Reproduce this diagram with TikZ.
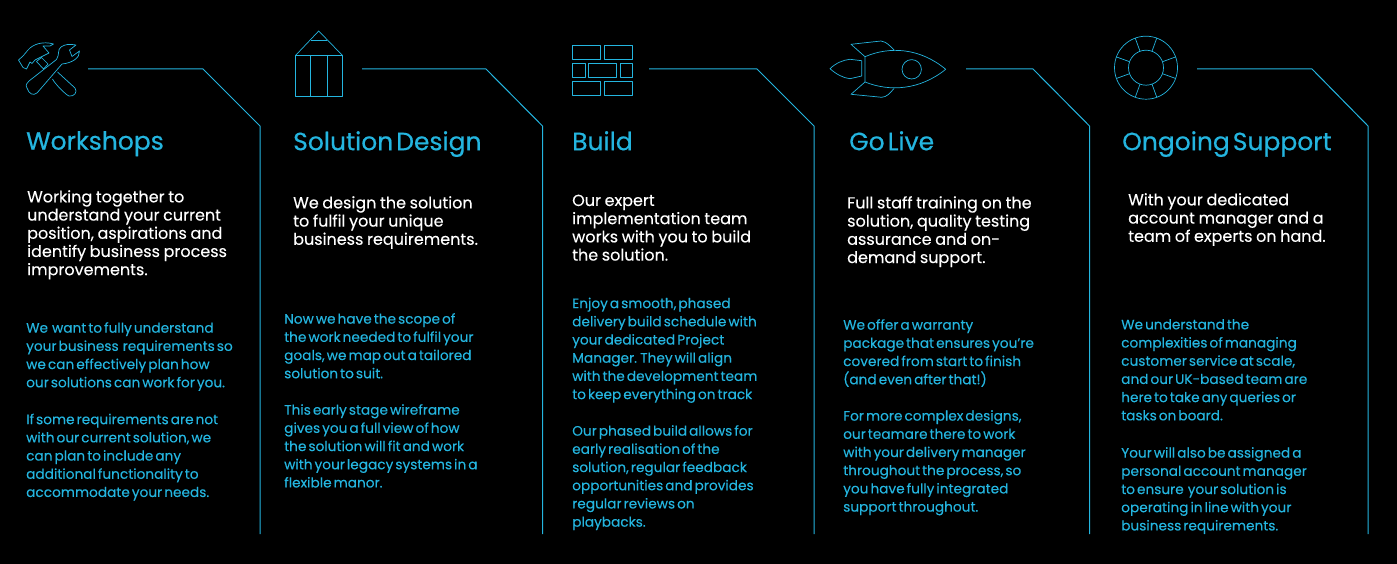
\documentclass[tikz,border=0pt]{standalone}
\usepackage{fontspec}
\setmainfont{Poppins}
\newfontfamily\titlefont[FakeBold=0.5,WordSpace=0.45]{Poppins}
\newfontfamily\leadfont[FakeBold=0.15,WordSpace=0.85]{Poppins}
\newfontfamily\detailfont[FakeBold=0.2,WordSpace=0.55]{Poppins}
\usepackage{tikz}
\usetikzlibrary{positioning,backgrounds,calc}
\definecolor{skyline}{HTML}{24B5DF}
\tikzset{title/.style={text=skyline,anchor=north west,inner sep=0pt,font=\titlefont\fontsize{25}{30}\selectfont},
 lead/.style={text=white,anchor=north west,inner sep=0pt,align=left,font=\leadfont\fontsize{16}{18.2}\selectfont},
 detail/.style={text=skyline,anchor=north west,inner sep=0pt,align=left,font=\detailfont\fontsize{13.7}{18.2}\selectfont},
 rail/.style={draw=skyline,line width=1pt},
 icon/.style={draw=skyline,line width=0.7pt,line join=round}}

\begin{document}
\begin{tikzpicture}[x=1pt,y=-1pt]
\fill[black] (0,0) rectangle (1397,564);
\useasboundingbox (0,0) rectangle (1397,564);

% hammer and wrench
\draw[icon] (18.5,60) -- (23,56) -- (28,50) .. controls (33,44) and (43,41) .. (53.5,44) -- (50,46) -- (43,46) -- (49,53) -- (39,58) -- (35,60) -- (32,63.5) -- (30,62) -- (26.5,69) -- (23,67.5) -- cycle;
\draw[icon] (36.5,61.5) -- (41.5,57.5) -- (48,64) -- (43.5,69) -- cycle;
\draw[icon] (27,88) .. controls (25,85) and (27,83) .. (29,81) -- (56.5,59.5) .. controls (60,54) and (57,50) .. (61,47) .. controls (65,44) and (70,44) .. (76,45) -- (69.5,50) -- (72,56.5) -- (79.5,51) .. controls (80,58) and (72,63) .. (62,64) -- (37,93) .. controls (33,96) and (29,94) .. (27,88) -- cycle;
\draw[icon] (57.5,72) -- (75,88) .. controls (78,92) and (74,97) .. (69,96) .. controls (66,95) and (55,84) .. (52.5,79);

% pencil
\draw[icon] (295.5,55.5) rectangle (342.5,96.5);
\draw[icon] (295.5,55.5) -- (318.7,31) -- (342.5,55.5);
\draw[icon] (310.7,40.5) -- (327.3,40.5);
\draw[icon] (310.7,55.5) -- (310.7,96.5);
\draw[icon] (327.3,55.5) -- (327.3,96.5);

% bricks
\draw[icon] (572,45) rectangle (600.7,59.7);
\draw[icon] (604,45) rectangle (632.7,59.7);
\draw[icon] (572,63) rectangle (585,77.7);
\draw[icon] (588.3,63) rectangle (616.7,77.7);
\draw[icon] (620,63) rectangle (632.7,77.7);
\draw[icon] (572,81) rectangle (600.7,95.7);
\draw[icon] (604,81) rectangle (632.7,95.7);

% rocket
\draw[icon] (865,56.7) .. controls (890,46) and (920,48) .. (945.7,69.3) .. controls (920,90) and (890,92) .. (865,82) -- cycle;
\draw[icon] (911.7,69.3) circle (9.7);
\draw[icon] (865,56.7) -- (851,44.3) -- (881,41) .. controls (887,42) and (890,46) .. (894,50);
\draw[icon] (865,82) -- (851,94.3) -- (881.7,97.3) .. controls (887,97) and (890,93) .. (894,88.5);
\draw[icon] (861.7,60.7) -- (850,59.3) .. controls (843,60) and (836,63) .. (830,68.7) .. controls (836,74) and (843,78) .. (850,78.7) -- (861.7,76) -- cycle;

% lifebuoy
\draw[icon] (1146,67.7) circle (31.5);
\draw[icon] (1146,67.7) circle (17.5);
\foreach \a in {20,70,110,160,200,250,290,340}
  \draw[icon] ($(1146,67.7)+(\a:17.5 and -17.5)$) -- ($(1146,67.7)+(\a:31.5 and -31.5)$);

% rails
\coordinate (w1) at (88,69);
\coordinate (w2) at (203,69);
\coordinate (w3) at (260,126);
\coordinate (w4) at (260,534);
\draw[rail] (w1)--(w2)--(w3)--(w4);
\coordinate (s1) at (362,69);
\coordinate (s2) at (486,69);
\coordinate (s3) at (542.5,126);
\coordinate (s4) at (542.5,534);
\draw[rail] (s1)--(s2)--(s3)--(s4);
\coordinate (b1) at (649,69);
\coordinate (b2) at (757,69);
\coordinate (b3) at (814,126);
\coordinate (b4) at (814,534);
\draw[rail] (b1)--(b2)--(b3)--(b4);
\coordinate (g1) at (966,69);
\coordinate (g2) at (1033,69);
\coordinate (g3) at (1089.5,126);
\coordinate (g4) at (1089.5,534);
\draw[rail] (g1)--(g2)--(g3)--(g4);
\coordinate (o1) at (1197,69);
\coordinate (o2) at (1312,69);
\coordinate (o3) at (1368,126);
\coordinate (o4) at (1368,534);
\draw[rail] (o1)--(o2)--(o3)--(o4);

% titles
\node[title] (wtitle) at (26,131) {Workshops};
\node[title] (stitle) at (293,131) {Solution Design};
\node[title] (btitle) at (572,131) {Build};
\node[title] (gtitle) at (849,131) {Go Live};
\node[title] (otitle) at (1122,131) {Ongoing Support};

% white text
\node[lead] (wlead) at (27,190) {Working together to\\understand your current\\position, aspirations and\\identify business process\\improvements.};
\node[lead] (slead) at (293,196) {We design the solution\\to fulfil your unique\\business requirements.};
\node[lead] (blead) at (572,194.5) {Our expert\\implementation team\\works with you to build\\the solution.};
\node[lead] (glead) at (847,196) {Full staff training on the\\solution, quality testing\\assurance and on-\\demand support.};
\node[lead] (olead) at (1128,193) {With your dedicated\\account manager and a\\team of experts on hand.};

% blue text
\node[detail] (wnote) at (26,322) {We\ \ want to fully understand\\your business\ \ requirements so\\we can effectively plan how\\our solutions can work for you.};
\node[detail] (wmore) at (26,413.5) {If some requirements are not\\with our current solution, we\\can plan to include any\\additional functionality to\\accommodate your needs.};
\node[detail] (snote) at (284,313) {Now we have the scope of\\the work needed to fulfil your\\goals, we map out a tailored\\solution to suit.};
\node[detail] (smore) at (284,404) {This early stage wireframe\\gives you a full view of how\\the solution will fit and work\\with your legacy systems in a\\flexible manor.};
\node[detail] (bnote) at (572,297.5) {Enjoy a smooth, phased\\delivery build schedule with\\your dedicated Project\\Manager. They will align\\with the development team\\to keep everything on track};
\node[detail] (bmore) at (572,425) {Our phased build allows for\\early realisation of the\\solution, regular feedback\\opportunities and provides\\regular reviews on\\playbacks.};
\node[detail] (gnote) at (843,319) {We offer a warranty\\package that ensures you’re\\covered from start to finish\\(and even after that!)};
\node[detail] (gmore) at (843,410) {For more complex designs,\\our teamare there to work\\with your delivery manager\\throughout the process, so\\you have fully integrated\\support throughout.};
\node[detail] (onote) at (1121,319) {We understand the\\complexities of managing\\customer service at scale,\\and our UK-based team are\\here to take any queries or\\tasks on board.};
\node[detail] (omore) at (1121,447) {Your will also be assigned a\\personal account manager\\to ensure\ \ your solution is\\operating in line with your\\business requirements.};
\end{tikzpicture}
\end{document}
